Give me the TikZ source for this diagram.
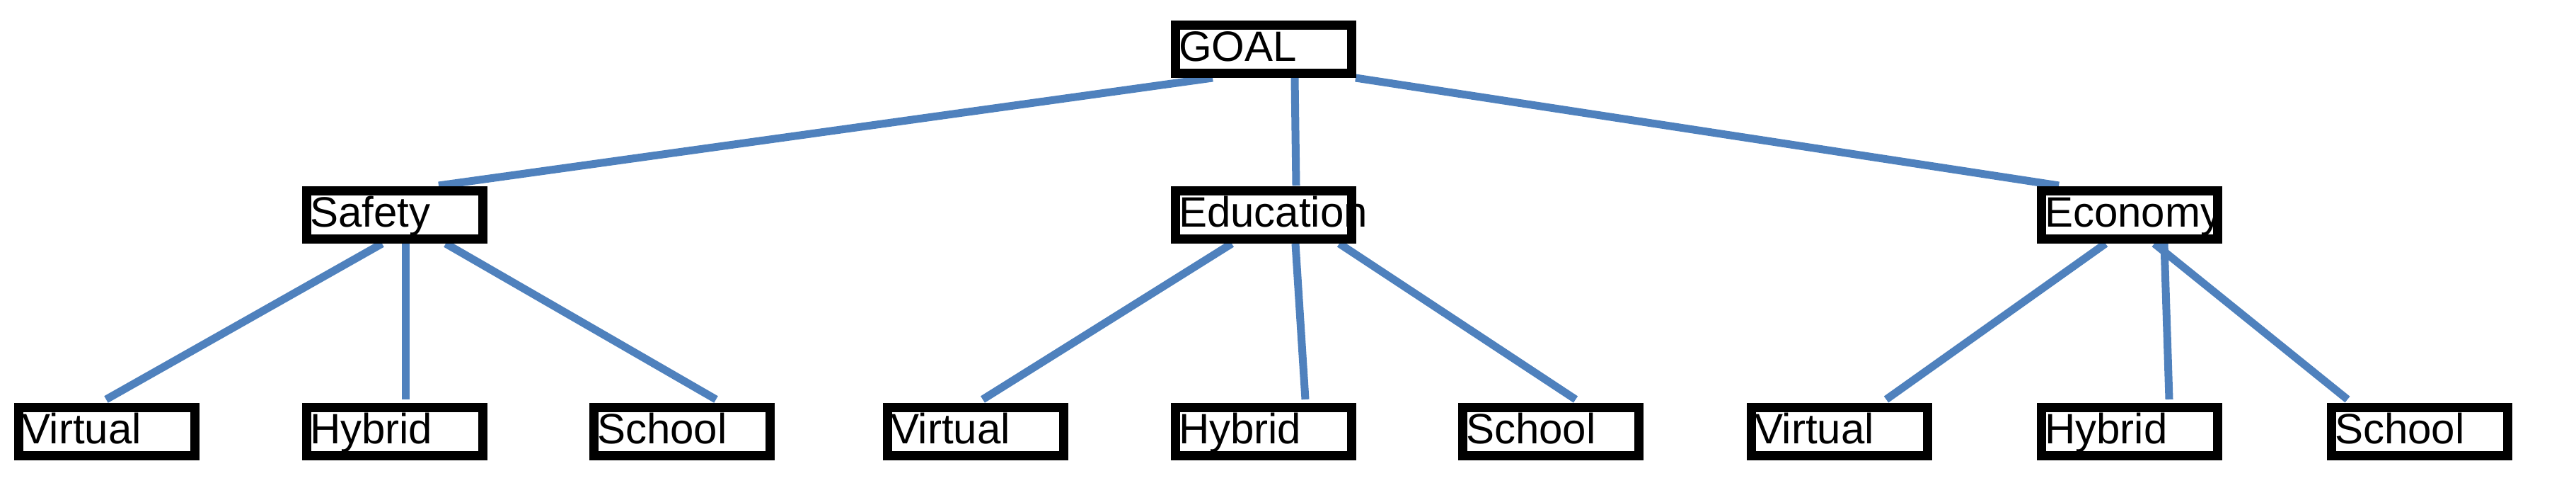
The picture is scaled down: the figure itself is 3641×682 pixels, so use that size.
\documentclass[tikz,border=0pt]{standalone}
\usepackage{fontspec}
\setmainfont{Liberation Sans}
\definecolor{lnblue}{RGB}{79,129,189}
\begin{document}
\begin{tikzpicture}[x=1pt,y=-1pt,
  bx/.style={draw=black,line width=13pt,fill=white,minimum width=249pt,minimum height=68pt,
    text width=240pt,align=left,inner xsep=0pt,text height=44pt,text depth=10pt,
    font=\fontsize{60}{66}\selectfont},
  ln/.style={draw=lnblue,line width=11pt}]
\useasboundingbox (0,0) rectangle (3641,682);
\begin{scope}
\draw[ln] (1714,110) -- (620,262);
\draw[ln] (1830,110) -- (1832,262);
\draw[ln] (1916,110) -- (2910,262);
\draw[ln] (540,344) -- (150,564);
\draw[ln] (573,344) -- (573,564);
\draw[ln] (630,344) -- (1012,564);
\draw[ln] (1741,344) -- (1389,564);
\draw[ln] (1831,344) -- (1845,564);
\draw[ln] (1893,344) -- (2227,564);
\draw[ln] (2976,344) -- (2666,564);
\draw[ln] (3059,344) -- (3066,564);
\draw[ln] (3045,344) -- (3318,564);
\end{scope}
\node[bx] (goal) at (1786,70) {GOAL};
\node[bx] (saf) at (558,303) {Safety};
\node[bx] (edu) at (1786,303) {Educatio\rlap{n}};
\node[bx] (eco) at (3010,303) {Economy};
\node[bx] (v1) at (151,609) {Virtual};
\node[bx] (h1) at (558,609) {Hybrid};
\node[bx] (s1) at (964,609) {School};
\node[bx] (v2) at (1379,609) {Virtual};
\node[bx] (h2) at (1786,609) {Hybrid};
\node[bx] (s2) at (2192,609) {School};
\node[bx] (v3) at (2600,609) {Virtual};
\node[bx] (h3) at (3010,609) {Hybrid};
\node[bx] (s3) at (3420,609) {School};
\end{tikzpicture}
\end{document}
